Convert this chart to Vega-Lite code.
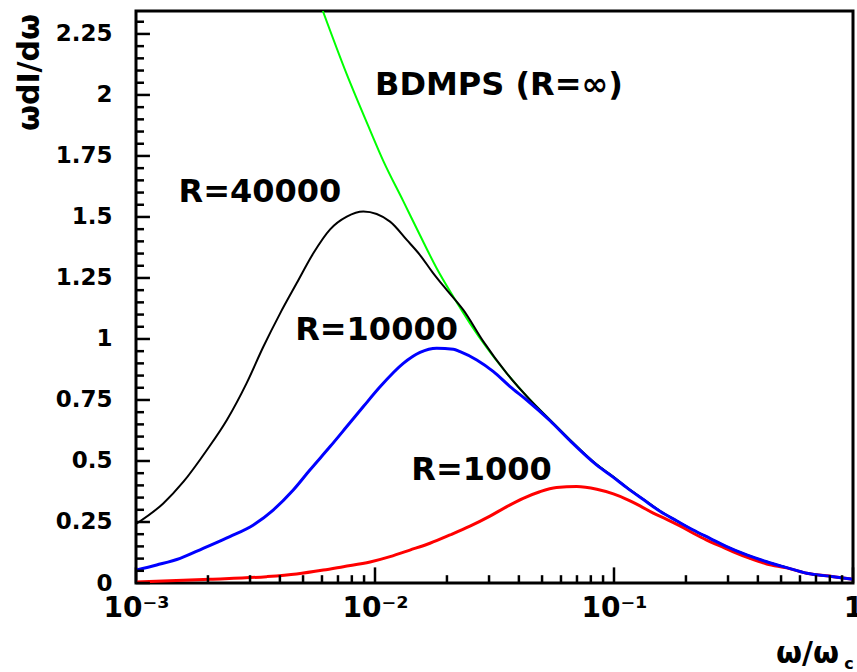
{
  "$schema": "https://vega.github.io/schema/vega-lite/v6.json",
  "width": 717,
  "height": 572,
  "autosize": "none",
  "padding": {"left": 136, "top": 11, "right": 4, "bottom": 89},
  "background": "white",
  "datasets": {
    "curves": [
      {"series": "BDMPS", "x": 0.00605, "y": 2.344},
      {"series": "BDMPS", "x": 0.00760, "y": 2.087},
      {"series": "BDMPS", "x": 0.00953, "y": 1.856},
      {"series": "BDMPS", "x": 0.01083, "y": 1.730},
      {"series": "BDMPS", "x": 0.01313, "y": 1.565},
      {"series": "BDMPS", "x": 0.01543, "y": 1.425},
      {"series": "BDMPS", "x": 0.01811, "y": 1.290},
      {"series": "BDMPS", "x": 0.02127, "y": 1.173},
      {"series": "BDMPS", "x": 0.02497, "y": 1.064},
      {"series": "BDMPS", "x": 0.02931, "y": 0.965},
      {"series": "BDMPS", "x": 0.0356, "y": 0.859},
      {"series": "BDMPS", "x": 0.0446, "y": 0.750},
      {"series": "BDMPS", "x": 0.0540, "y": 0.668},
      {"series": "BDMPS", "x": 0.0655, "y": 0.586},
      {"series": "BDMPS", "x": 0.0847, "y": 0.485},
      {"series": "BDMPS", "x": 0.0991, "y": 0.436},
      {"series": "BDMPS", "x": 0.1130, "y": 0.392},
      {"series": "BDMPS", "x": 0.1327, "y": 0.343},
      {"series": "BDMPS", "x": 0.1557, "y": 0.295},
      {"series": "BDMPS", "x": 0.1828, "y": 0.255},
      {"series": "BDMPS", "x": 0.2147, "y": 0.217},
      {"series": "BDMPS", "x": 0.2521, "y": 0.183},
      {"series": "BDMPS", "x": 0.2961, "y": 0.149},
      {"series": "BDMPS", "x": 0.3593, "y": 0.115},
      {"series": "BDMPS", "x": 0.4355, "y": 0.087},
      {"series": "BDMPS", "x": 0.5281, "y": 0.063},
      {"series": "BDMPS", "x": 0.6403, "y": 0.040},
      {"series": "BDMPS", "x": 0.8277, "y": 0.026},
      {"series": "BDMPS", "x": 1.0, "y": 0.015},

      {"series": "R40000", "x": 0.00100, "y": 0.242},
      {"series": "R40000", "x": 0.00130, "y": 0.326},
      {"series": "R40000", "x": 0.00158, "y": 0.415},
      {"series": "R40000", "x": 0.00198, "y": 0.545},
      {"series": "R40000", "x": 0.00240, "y": 0.668},
      {"series": "R40000", "x": 0.00290, "y": 0.818},
      {"series": "R40000", "x": 0.00341, "y": 0.968},
      {"series": "R40000", "x": 0.00401, "y": 1.105},
      {"series": "R40000", "x": 0.00470, "y": 1.228},
      {"series": "R40000", "x": 0.00552, "y": 1.351},
      {"series": "R40000", "x": 0.00649, "y": 1.449},
      {"series": "R40000", "x": 0.00762, "y": 1.501},
      {"series": "R40000", "x": 0.00894, "y": 1.522},
      {"series": "R40000", "x": 0.01156, "y": 1.481},
      {"series": "R40000", "x": 0.01358, "y": 1.406},
      {"series": "R40000", "x": 0.01543, "y": 1.344},
      {"series": "R40000", "x": 0.01754, "y": 1.269},
      {"series": "R40000", "x": 0.01995, "y": 1.201},
      {"series": "R40000", "x": 0.02341, "y": 1.119},
      {"series": "R40000", "x": 0.02838, "y": 0.990},
      {"series": "R40000", "x": 0.0356, "y": 0.859},
      {"series": "R40000", "x": 0.0446, "y": 0.750},
      {"series": "R40000", "x": 0.0540, "y": 0.668},
      {"series": "R40000", "x": 0.0655, "y": 0.586},
      {"series": "R40000", "x": 0.0847, "y": 0.485},
      {"series": "R40000", "x": 0.0991, "y": 0.436},
      {"series": "R40000", "x": 0.1130, "y": 0.392},
      {"series": "R40000", "x": 0.1327, "y": 0.343},
      {"series": "R40000", "x": 0.1557, "y": 0.295},
      {"series": "R40000", "x": 0.1828, "y": 0.255},
      {"series": "R40000", "x": 0.2147, "y": 0.217},
      {"series": "R40000", "x": 0.2521, "y": 0.183},
      {"series": "R40000", "x": 0.2961, "y": 0.149},
      {"series": "R40000", "x": 0.3593, "y": 0.115},
      {"series": "R40000", "x": 0.4355, "y": 0.087},
      {"series": "R40000", "x": 0.5281, "y": 0.063},
      {"series": "R40000", "x": 0.6403, "y": 0.040},
      {"series": "R40000", "x": 0.8277, "y": 0.026},
      {"series": "R40000", "x": 1.0, "y": 0.015},

      {"series": "R10000", "x": 0.00100, "y": 0.053},
      {"series": "R10000", "x": 0.00122, "y": 0.074},
      {"series": "R10000", "x": 0.00153, "y": 0.101},
      {"series": "R10000", "x": 0.00191, "y": 0.142},
      {"series": "R10000", "x": 0.00247, "y": 0.190},
      {"series": "R10000", "x": 0.00310, "y": 0.238},
      {"series": "R10000", "x": 0.00375, "y": 0.299},
      {"series": "R10000", "x": 0.00455, "y": 0.381},
      {"series": "R10000", "x": 0.00534, "y": 0.463},
      {"series": "R10000", "x": 0.00649, "y": 0.559},
      {"series": "R10000", "x": 0.00762, "y": 0.641},
      {"series": "R10000", "x": 0.00894, "y": 0.723},
      {"series": "R10000", "x": 0.01050, "y": 0.804},
      {"series": "R10000", "x": 0.01313, "y": 0.900},
      {"series": "R10000", "x": 0.01543, "y": 0.945},
      {"series": "R10000", "x": 0.01811, "y": 0.962},
      {"series": "R10000", "x": 0.02127, "y": 0.958},
      {"series": "R10000", "x": 0.02270, "y": 0.948},
      {"series": "R10000", "x": 0.02666, "y": 0.914},
      {"series": "R10000", "x": 0.03130, "y": 0.866},
      {"series": "R10000", "x": 0.03673, "y": 0.805},
      {"series": "R10000", "x": 0.04313, "y": 0.750},
      {"series": "R10000", "x": 0.0540, "y": 0.665},
      {"series": "R10000", "x": 0.0655, "y": 0.583},
      {"series": "R10000", "x": 0.0847, "y": 0.483},
      {"series": "R10000", "x": 0.0991, "y": 0.434},
      {"series": "R10000", "x": 0.1130, "y": 0.391},
      {"series": "R10000", "x": 0.1327, "y": 0.342},
      {"series": "R10000", "x": 0.1557, "y": 0.294},
      {"series": "R10000", "x": 0.1828, "y": 0.255},
      {"series": "R10000", "x": 0.2147, "y": 0.217},
      {"series": "R10000", "x": 0.2521, "y": 0.183},
      {"series": "R10000", "x": 0.2961, "y": 0.149},
      {"series": "R10000", "x": 0.3593, "y": 0.115},
      {"series": "R10000", "x": 0.4355, "y": 0.087},
      {"series": "R10000", "x": 0.5281, "y": 0.063},
      {"series": "R10000", "x": 0.6403, "y": 0.040},
      {"series": "R10000", "x": 0.8277, "y": 0.026},
      {"series": "R10000", "x": 1.0, "y": 0.015},

      {"series": "R1000", "x": 0.00100, "y": 0.004},
      {"series": "R1000", "x": 0.00204, "y": 0.015},
      {"series": "R1000", "x": 0.00352, "y": 0.026},
      {"series": "R1000", "x": 0.00470, "y": 0.037},
      {"series": "R1000", "x": 0.00608, "y": 0.053},
      {"series": "R1000", "x": 0.00737, "y": 0.067},
      {"series": "R1000", "x": 0.00954, "y": 0.086},
      {"series": "R1000", "x": 0.01156, "y": 0.108},
      {"series": "R1000", "x": 0.01400, "y": 0.135},
      {"series": "R1000", "x": 0.01698, "y": 0.163},
      {"series": "R1000", "x": 0.02060, "y": 0.197},
      {"series": "R1000", "x": 0.02497, "y": 0.233},
      {"series": "R1000", "x": 0.03027, "y": 0.274},
      {"series": "R1000", "x": 0.03560, "y": 0.313},
      {"series": "R1000", "x": 0.04169, "y": 0.347},
      {"series": "R1000", "x": 0.04894, "y": 0.374},
      {"series": "R1000", "x": 0.05748, "y": 0.391},
      {"series": "R1000", "x": 0.06977, "y": 0.395},
      {"series": "R1000", "x": 0.08472, "y": 0.384},
      {"series": "R1000", "x": 0.09941, "y": 0.365},
      {"series": "R1000", "x": 0.1130, "y": 0.343},
      {"series": "R1000", "x": 0.1285, "y": 0.316},
      {"series": "R1000", "x": 0.1460, "y": 0.286},
      {"series": "R1000", "x": 0.1661, "y": 0.261},
      {"series": "R1000", "x": 0.1888, "y": 0.234},
      {"series": "R1000", "x": 0.2147, "y": 0.204},
      {"series": "R1000", "x": 0.2443, "y": 0.176},
      {"series": "R1000", "x": 0.2776, "y": 0.152},
      {"series": "R1000", "x": 0.3155, "y": 0.128},
      {"series": "R1000", "x": 0.3706, "y": 0.101},
      {"series": "R1000", "x": 0.4355, "y": 0.078},
      {"series": "R1000", "x": 0.5281, "y": 0.062},
      {"series": "R1000", "x": 0.6403, "y": 0.040},
      {"series": "R1000", "x": 0.8277, "y": 0.026},
      {"series": "R1000", "x": 1.0, "y": 0.015}
    ],
    "labels": [
      {"x": 0.0330, "y": 2.0, "text": "BDMPS (R=∞)"},
      {"x": 0.00330, "y": 1.561, "text": "R=40000"},
      {"x": 0.01015, "y": 0.996, "text": "R=10000"},
      {"x": 0.02793, "y": 0.422, "text": "R=1000"}
    ],
    "sub": [
      {"x": 0.962, "y": -0.33, "text": "c"}
    ],
    "xticks": [
      {"v": 0.001, "kind": "major"}, {"v": 0.002, "kind": "minor"}, {"v": 0.003, "kind": "minor"}, {"v": 0.004, "kind": "minor"}, {"v": 0.005, "kind": "minor"}, {"v": 0.006, "kind": "minor"}, {"v": 0.007, "kind": "minor"}, {"v": 0.008, "kind": "minor"}, {"v": 0.009, "kind": "minor"},
      {"v": 0.01, "kind": "major"}, {"v": 0.02, "kind": "minor"}, {"v": 0.03, "kind": "minor"}, {"v": 0.04, "kind": "minor"}, {"v": 0.05, "kind": "minor"}, {"v": 0.06, "kind": "minor"}, {"v": 0.07, "kind": "minor"}, {"v": 0.08, "kind": "minor"}, {"v": 0.09, "kind": "minor"},
      {"v": 0.1, "kind": "major"}, {"v": 0.2, "kind": "minor"}, {"v": 0.3, "kind": "minor"}, {"v": 0.4, "kind": "minor"}, {"v": 0.5, "kind": "minor"}, {"v": 0.6, "kind": "minor"}, {"v": 0.7, "kind": "minor"}, {"v": 0.8, "kind": "minor"}, {"v": 0.9, "kind": "minor"},
      {"v": 1, "kind": "major"}
    ],
    "yticks": [
      {"v": 0, "kind": "major"}, {"v": 0.05, "kind": "minor"}, {"v": 0.1, "kind": "minor"}, {"v": 0.15, "kind": "minor"}, {"v": 0.2, "kind": "minor"},
      {"v": 0.25, "kind": "major"}, {"v": 0.3, "kind": "minor"}, {"v": 0.35, "kind": "minor"}, {"v": 0.4, "kind": "minor"}, {"v": 0.45, "kind": "minor"},
      {"v": 0.5, "kind": "major"}, {"v": 0.55, "kind": "minor"}, {"v": 0.6, "kind": "minor"}, {"v": 0.65, "kind": "minor"}, {"v": 0.7, "kind": "minor"},
      {"v": 0.75, "kind": "major"}, {"v": 0.8, "kind": "minor"}, {"v": 0.85, "kind": "minor"}, {"v": 0.9, "kind": "minor"}, {"v": 0.95, "kind": "minor"},
      {"v": 1, "kind": "major"}, {"v": 1.05, "kind": "minor"}, {"v": 1.1, "kind": "minor"}, {"v": 1.15, "kind": "minor"}, {"v": 1.2, "kind": "minor"},
      {"v": 1.25, "kind": "major"}, {"v": 1.3, "kind": "minor"}, {"v": 1.35, "kind": "minor"}, {"v": 1.4, "kind": "minor"}, {"v": 1.45, "kind": "minor"},
      {"v": 1.5, "kind": "major"}, {"v": 1.55, "kind": "minor"}, {"v": 1.6, "kind": "minor"}, {"v": 1.65, "kind": "minor"}, {"v": 1.7, "kind": "minor"},
      {"v": 1.75, "kind": "major"}, {"v": 1.8, "kind": "minor"}, {"v": 1.85, "kind": "minor"}, {"v": 1.9, "kind": "minor"}, {"v": 1.95, "kind": "minor"},
      {"v": 2, "kind": "major"}, {"v": 2.05, "kind": "minor"}, {"v": 2.1, "kind": "minor"}, {"v": 2.15, "kind": "minor"}, {"v": 2.2, "kind": "minor"},
      {"v": 2.25, "kind": "major"}, {"v": 2.3, "kind": "minor"}
    ]
  },
  "config": {
    "view": {"stroke": "black", "strokeWidth": 3},
    "axis": {
      "grid": false,
      "domain": false,
      "ticks": false,
      "labelFont": "DejaVu Sans",
      "labelFontWeight": "bold",
      "labelColor": "black",
      "titleFont": "DejaVu Sans",
      "titleFontWeight": "bold",
      "titleColor": "black"
    }
  },
  "resolve": {"axis": {"x": "independent", "y": "independent"}},
  "layer": [
    {
      "data": {"name": "curves"},
      "transform": [{"filter": "datum.series == 'BDMPS'"}],
      "mark": {"type": "line", "color": "#00ff00", "strokeWidth": 2, "clip": true, "interpolate": "monotone"},
      "encoding": {
        "x": {
          "field": "x",
          "type": "quantitative",
          "scale": {"type": "log", "domain": [0.001, 1], "nice": false},
          "axis": {
            "orient": "bottom",
            "title": "ω/ω",
            "titleFontSize": 30,
            "titleX": 671,
            "titleY": 70,
            "titleAlign": "center",
            "titleBaseline": "middle",
            "values": [0.001, 0.01, 0.1, 1],
            "labelExpr": "datum.value == 1 ? '1' : datum.value == 0.1 ? '10⁻¹' : datum.value == 0.01 ? '10⁻²' : '10⁻³'",
            "labelFontSize": 28,
            "labelPadding": 11,
            "labelFlush": false,
            "labelOverlap": false
          }
        },
        "y": {
          "field": "y",
          "type": "quantitative",
          "scale": {"domain": [0, 2.344], "nice": false, "zero": true},
          "axis": {
            "orient": "left",
            "title": "ωdI/dω",
            "titleFontSize": 30,
            "titleAngle": 270,
            "titleX": -107,
            "titleY": 61,
            "titleAlign": "center",
            "titleBaseline": "middle",
            "values": [0, 0.25, 0.5, 0.75, 1, 1.25, 1.5, 1.75, 2, 2.25],
            "labelExpr": "format(datum.value, '~g')",
            "labelFontSize": 23,
            "labelPadding": 24,
            "labelFlush": false,
            "labelOverlap": false
          }
        }
      }
    },
    {
      "data": {"name": "curves"},
      "transform": [{"filter": "datum.series == 'R40000'"}],
      "mark": {"type": "line", "color": "black", "strokeWidth": 2, "clip": true, "interpolate": "monotone"},
      "encoding": {
        "x": {"field": "x", "type": "quantitative", "axis": null},
        "y": {"field": "y", "type": "quantitative", "axis": null}
      }
    },
    {
      "data": {"name": "curves"},
      "transform": [{"filter": "datum.series == 'R1000'"}],
      "mark": {"type": "line", "color": "#ff0000", "strokeWidth": 3, "clip": true, "interpolate": "monotone"},
      "encoding": {
        "x": {"field": "x", "type": "quantitative", "axis": null},
        "y": {"field": "y", "type": "quantitative", "axis": null}
      }
    },
    {
      "data": {"name": "curves"},
      "transform": [{"filter": "datum.series == 'R10000'"}],
      "mark": {"type": "line", "color": "#0000ff", "strokeWidth": 3, "clip": true, "interpolate": "monotone"},
      "encoding": {
        "x": {"field": "x", "type": "quantitative", "axis": null},
        "y": {"field": "y", "type": "quantitative", "axis": null}
      }
    },
    {
      "data": {"name": "xticks"},
      "transform": [{"filter": "datum.kind == 'major'"}],
      "mark": {"type": "rule", "color": "black", "strokeWidth": 2.5},
      "encoding": {
        "x": {"field": "v", "type": "quantitative", "axis": null},
        "y": {"datum": 0, "type": "quantitative", "axis": null},
        "y2": {"datum": 0.064}
      }
    },
    {
      "data": {"name": "xticks"},
      "transform": [{"filter": "datum.kind == 'minor'"}],
      "mark": {"type": "rule", "color": "black", "strokeWidth": 2.5},
      "encoding": {
        "x": {"field": "v", "type": "quantitative", "axis": null},
        "y": {"datum": 0, "type": "quantitative", "axis": null},
        "y2": {"datum": 0.032}
      }
    },
    {
      "data": {"name": "yticks"},
      "transform": [{"filter": "datum.kind == 'major'"}],
      "mark": {"type": "rule", "color": "black", "strokeWidth": 2.5},
      "encoding": {
        "y": {"field": "v", "type": "quantitative", "axis": null},
        "x": {"datum": 0.001, "type": "quantitative", "axis": null},
        "x2": {"datum": 0.001144}
      }
    },
    {
      "data": {"name": "yticks"},
      "transform": [{"filter": "datum.kind == 'minor'"}],
      "mark": {"type": "rule", "color": "black", "strokeWidth": 2.5},
      "encoding": {
        "y": {"field": "v", "type": "quantitative", "axis": null},
        "x": {"datum": 0.001, "type": "quantitative", "axis": null},
        "x2": {"datum": 0.00108}
      }
    },
    {
      "data": {"name": "labels"},
      "mark": {"type": "text", "font": "DejaVu Sans", "fontWeight": "bold", "fontSize": 32, "align": "center", "baseline": "alphabetic", "color": "black"},
      "encoding": {
        "x": {"field": "x", "type": "quantitative", "axis": null},
        "y": {"field": "y", "type": "quantitative", "axis": null},
        "text": {"field": "text"}
      }
    },
    {
      "data": {"name": "sub"},
      "mark": {"type": "text", "font": "DejaVu Sans", "fontWeight": "bold", "fontSize": 16, "align": "center", "baseline": "middle", "color": "black"},
      "encoding": {
        "x": {"field": "x", "type": "quantitative", "axis": null},
        "y": {"field": "y", "type": "quantitative", "axis": null},
        "text": {"field": "text"}
      }
    }
  ]
}
